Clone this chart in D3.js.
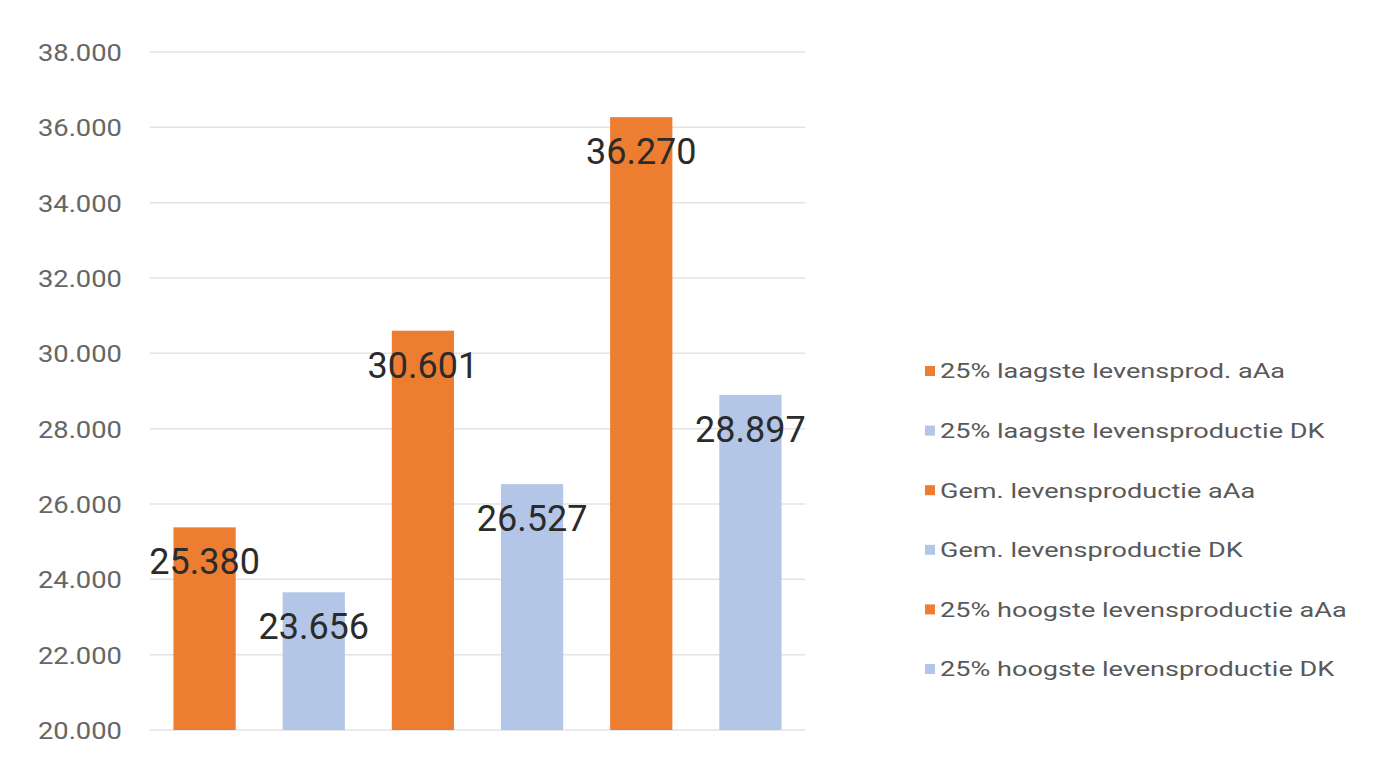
<!DOCTYPE html>
<html>
<head>
<meta charset="utf-8">
<script src="https://cdn.jsdelivr.net/npm/d3@7"></script>
<style>
  html, body { margin: 0; padding: 0; background: #ffffff; }
  svg { display: block; }
</style>
</head>
<body>
<svg id="chart" width="1390" height="769"></svg>
<script>
// ---- data ----
const categories = [
  "25% laagste levensprod. aAa",
  "25% laagste levensproductie DK",
  "Gem. levensproductie aAa",
  "Gem. levensproductie DK",
  "25% hoogste levensproductie aAa",
  "25% hoogste levensproductie DK"
];
const values = [25380, 23656, 30601, 26527, 36270, 28897];
const seriesColors = ["#ED7D31", "#B4C6E7", "#ED7D31", "#B4C6E7", "#ED7D31", "#B4C6E7"];
const yTicks = [20000, 22000, 24000, 26000, 28000, 30000, 32000, 34000, 36000, 38000];

// ---- layout ----
const svg = d3.select("#chart");
const plot = { left: 150, right: 805, top: 52, bottom: 730 };
const fontFam = "Roboto, 'Open Sans', 'Noto Sans', sans-serif";

const x = d3.scaleBand().domain(categories).range([plot.left, plot.right]).paddingInner(0.43).paddingOuter(0.215);
const y = d3.scaleLinear().domain([20000, 38000]).range([plot.bottom, plot.top]);

const fmt = v => d3.format(",")(v).replace(/,/g, ".");

// horizontally widen text (reference is slightly stretched)
function widen(sel, k) {
  sel.each(function() {
    const w = this.getComputedTextLength();
    d3.select(this).attr("textLength", w * k).attr("lengthAdjust", "spacingAndGlyphs");
  });
}

// gridlines
svg.append("g")
  .selectAll("line")
  .data(yTicks)
  .join("line")
  .attr("x1", plot.left).attr("x2", plot.right)
  .attr("y1", d => y(d)).attr("y2", d => y(d))
  .attr("stroke", "#e3e3e3").attr("stroke-width", 1.5);

// y axis labels
const yAxis = d3.axisLeft(y).tickValues(yTicks).tickFormat(fmt).tickSize(0).tickPadding(0);
const ya = svg.append("g").attr("transform", `translate(122,0)`).call(yAxis);
ya.select(".domain").remove();
ya.selectAll("text")
  .attr("font-family", fontFam)
  .attr("font-size", 24)
  .attr("fill", "#666666")
  .attr("dy", "0.35em")
  .call(widen, 1.14);

// bars
svg.append("g")
  .selectAll("rect")
  .data(values)
  .join("rect")
  .attr("x", (d, i) => x(categories[i]))
  .attr("width", x.bandwidth())
  .attr("y", d => y(d))
  .attr("height", d => y(20000) - y(d))
  .attr("fill", (d, i) => seriesColors[i]);

// data labels
svg.append("g")
  .selectAll("text")
  .data(values)
  .join("text")
  .attr("x", (d, i) => x(categories[i]) + x.bandwidth() / 2)
  .attr("y", d => y(d) + 47)
  .attr("text-anchor", "middle")
  .attr("font-family", fontFam)
  .attr("font-size", 36)
  .attr("fill", "#2b2b2b")
  .text(d => fmt(d));

// legend
const legend = svg.append("g");
const legendY = d3.scalePoint().domain(categories).range([371, 669]);
const items = legend.selectAll("g").data(categories).join("g")
  .attr("transform", d => `translate(925,${legendY(d)})`);
items.append("rect")
  .attr("x", 0).attr("y", -5).attr("width", 10).attr("height", 10)
  .attr("fill", (d, i) => seriesColors[i]);
items.append("text")
  .attr("x", 15).attr("y", 0).attr("dy", "0.35em")
  .attr("font-family", fontFam)
  .attr("font-size", 21)
  .attr("fill", "#595959")
  .text(d => d)
  .call(widen, 1.29);
</script>
</body>
</html>
